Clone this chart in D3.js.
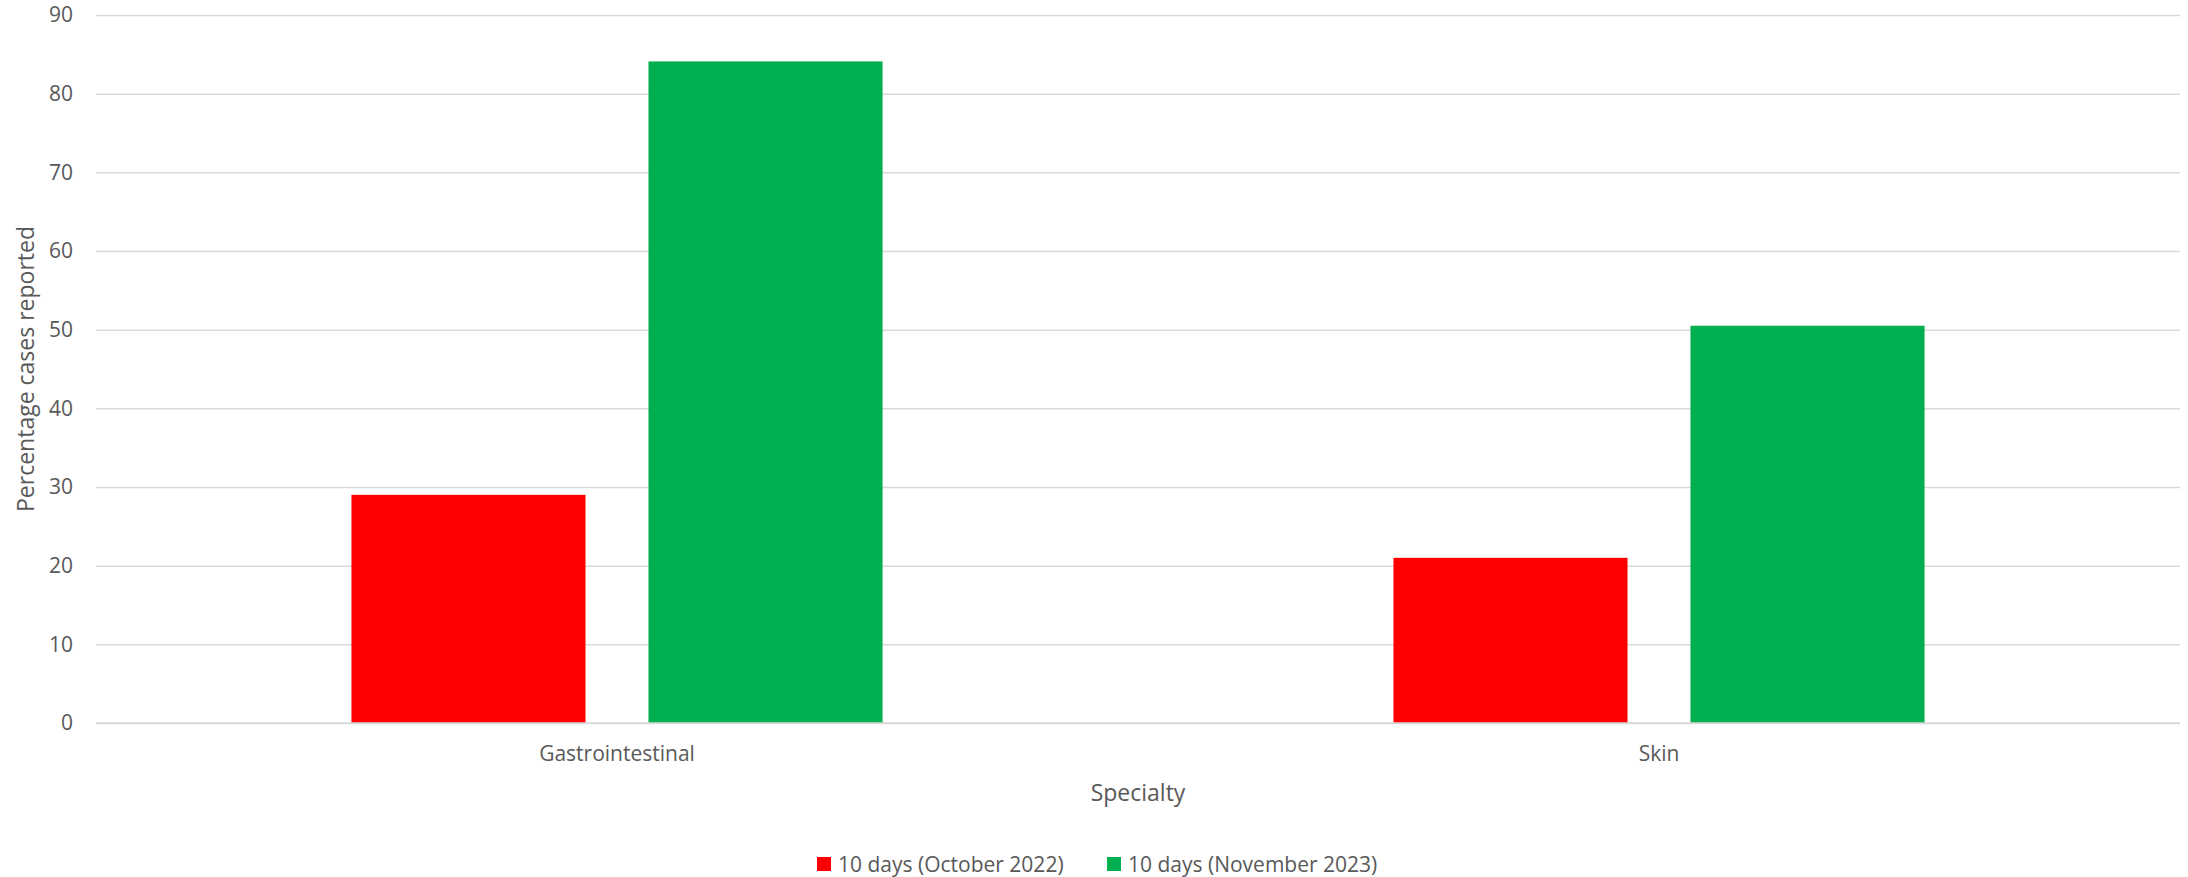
<!DOCTYPE html>
<html>
<head>
<meta charset="utf-8">
<script src="https://cdn.jsdelivr.net/npm/d3@7"></script>
<style>
  html, body { margin: 0; padding: 0; background: #ffffff; }
  svg { display: block; }
  text { font-family: "Open Sans", sans-serif; fill: #595959; }
</style>
</head>
<body>
<svg id="chart" width="2188" height="877"></svg>
<script>
const categories = ["Gastrointestinal", "Skin"];
const seriesNames = ["10 days (October 2022)", "10 days (November 2023)"];
const seriesColors = ["#FF0000", "#00B050"];
const octoberValues = [29.0, 21.0];
const novemberValues = [84.1, 50.5];
const yTicks = [0, 10, 20, 30, 40, 50, 60, 70, 80, 90];
const xAxisTitle = "Specialty";
const yAxisTitle = "Percentage cases reported";

const seriesValues = [octoberValues, novemberValues];

const svg = d3.select("#chart");
const W = 2188, H = 877;
const margin = { left: 96, right: 8, top: 15, bottom: 154 };
const plotRight = W - margin.right;
const plotBottom = H - margin.bottom;

const y = d3.scaleLinear().domain([0, 90]).range([plotBottom, margin.top]);
const x0 = d3.scaleBand().domain(categories).range([margin.left, plotRight]).padding(0);
const x1 = d3.scaleBand().domain(seriesNames).range([0, x0.bandwidth()])
  .paddingInner(0.212).paddingOuter(0.86);

// gridlines
const yAxis = d3.axisLeft(y).tickValues(yTicks).tickSize(-(plotRight - margin.left)).tickPadding(23).tickFormat(d3.format("d"));
const gy = svg.append("g").attr("transform", `translate(${margin.left},0)`).call(yAxis);
gy.select(".domain").remove();
gy.selectAll(".tick line").attr("stroke", "#d9d9d9").attr("stroke-width", 1.5);
gy.selectAll(".tick text").attr("font-size", 21).attr("fill", "#595959")
  .style("font-family", "'Open Sans', sans-serif");

// bars
const groups = svg.append("g").selectAll("g")
  .data(categories)
  .join("g")
  .attr("transform", d => `translate(${x0(d)},0)`);

groups.selectAll("rect")
  .data((d, i) => seriesNames.map((s, j) => ({ s, j, v: seriesValues[j][i] })))
  .join("rect")
  .attr("x", d => x1(d.s))
  .attr("width", x1.bandwidth())
  .attr("y", d => y(d.v))
  .attr("height", d => y(0) - y(d.v))
  .attr("fill", d => seriesColors[d.j]);

// x axis line (baseline gridline over bars)
svg.append("line")
  .attr("x1", margin.left).attr("x2", plotRight)
  .attr("y1", y(0)).attr("y2", y(0))
  .attr("stroke", "#d9d9d9").attr("stroke-width", 1.5);

// x axis labels
const xAxis = d3.axisBottom(x0).tickSize(0).tickPadding(0);
const gx = svg.append("g").attr("transform", `translate(0,${y(0)})`).call(xAxis);
gx.select(".domain").remove();
gx.selectAll(".tick text")
  .attr("font-size", 21).attr("fill", "#595959")
  .style("font-family", "'Open Sans', sans-serif")
  .attr("y", 38).attr("dy", 0);

// axis titles
svg.append("text")
  .attr("x", (margin.left + plotRight) / 2 + 0)
  .attr("y", 801)
  .attr("text-anchor", "middle")
  .attr("font-size", 23)
  .text(xAxisTitle);

svg.append("text")
  .attr("transform", `translate(34,${(margin.top + plotBottom) / 2}) rotate(-90)`)
  .attr("text-anchor", "middle")
  .attr("font-size", 23)
  .text(yAxisTitle);

// legend
const legendItems = [
  { name: seriesNames[0], color: seriesColors[0], x: 817 },
  { name: seriesNames[1], color: seriesColors[1], x: 1107 }
];
const lg = svg.append("g");
legendItems.forEach(it => {
  lg.append("rect").attr("x", it.x).attr("y", 857).attr("width", 14).attr("height", 14).attr("fill", it.color);
  lg.append("text").attr("x", it.x + 21).attr("y", 872).attr("font-size", 21).text(it.name);
});
</script>
</body>
</html>
